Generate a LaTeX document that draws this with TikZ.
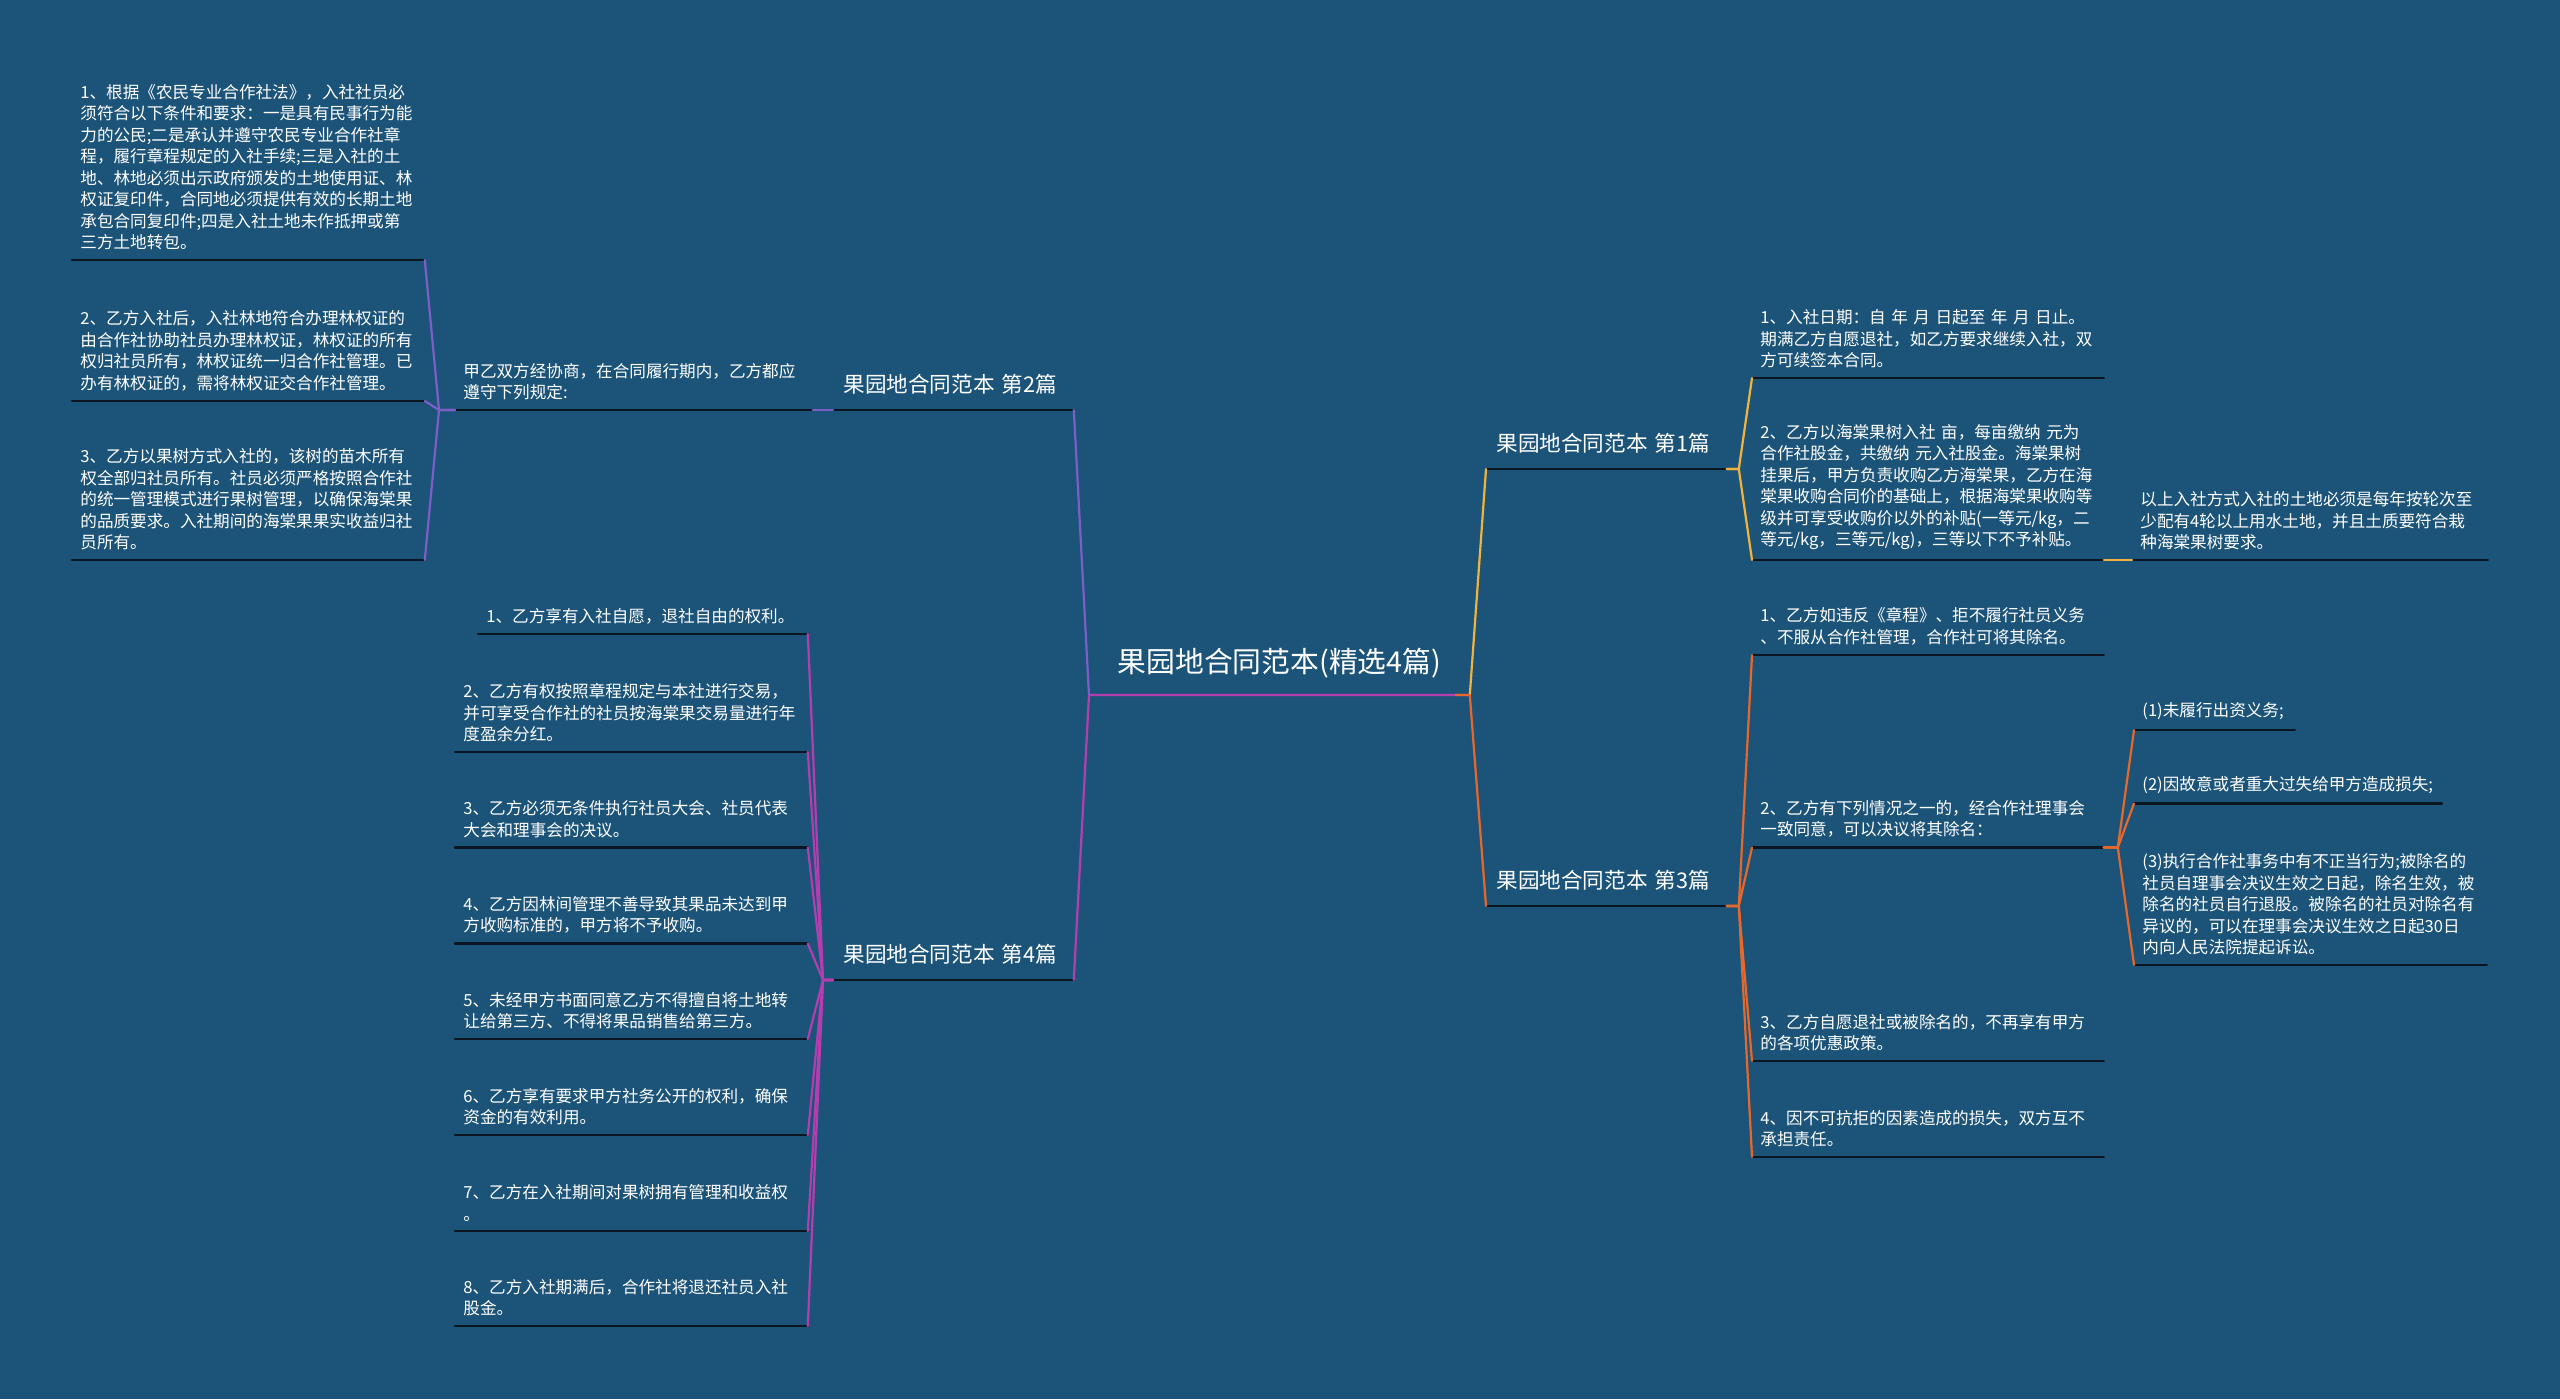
\documentclass[tikz,border=0pt]{standalone}
\usepackage{fontspec}
\usepackage{tikz}
\newfontfamily\cjk{Noto Sans CJK SC}
\definecolor{gmBg}{HTML}{1C5479}
\definecolor{gmRule}{HTML}{0B1620}
\definecolor{gmPurple}{HTML}{7B5EC6}
\definecolor{gmMagenta}{HTML}{B43DAF}
\definecolor{gmYellow}{HTML}{F2B33D}
\definecolor{gmOrange}{HTML}{E8682C}
\tikzset{
  gm map/.style={font=\cjk, text=white, line cap=round, line join=round},
  gm leaf/.style={anchor=south west, align=left, inner xsep=4pt, inner ysep=4.8pt,
    text width=#1, font=\cjk\fontsize{8.3}{10.75}\selectfont},
  gm branch/.style={anchor=south west, align=left, inner xsep=5pt, inner ysep=7.5pt,
    text width=110pt, font=\cjk\fontsize{10.8}{13}\selectfont},
  gm root/.style={anchor=south west, align=center, inner xsep=5pt, inner ysep=8pt,
    text width=180pt, font=\cjk\fontsize{14.4}{17}\selectfont},
  gm rule/.style={draw=gmRule, line width=1.3pt},
  gm link/.style={line width=1.1pt}
}
\begin{document}
\begin{tikzpicture}[gm map, x=0.5pt, y=-0.5pt]
\fill[gmBg] (0,0) rectangle (2560,1399);
\useasboundingbox (0,0) rectangle (2560,1399);

% root
\node[gm root] (ctr) at (1089,695) {果园地合同范本(精选4篇)};

% 第2篇
\node[gm branch] (b2) at (833,410) {果园地合同范本 第2篇};
\node[gm leaf=170.5pt] (p2) at (455,410) {甲乙双方经协商，在合同履行期内，乙方都应\\遵守下列规定:};
\node[gm leaf=168pt] (l2a) at (72,260) {1、根据《农民专业合作社法》，入社社员必\\须符合以下条件和要求：一是具有民事行为能\\力的公民;二是承认并遵守农民专业合作社章\\程，履行章程规定的入社手续;三是入社的土\\地、林地必须出示政府颁发的土地使用证、林\\权证复印件，合同地必须提供有效的长期土地\\承包合同复印件;四是入社土地未作抵押或第\\三方土地转包。};
\node[gm leaf=168pt] (l2b) at (72,401) {2、乙方入社后，入社林地符合办理林权证的\\由合作社协助社员办理林权证，林权证的所有\\权归社员所有，林权证统一归合作社管理。已\\办有林权证的，需将林权证交合作社管理。};
\node[gm leaf=168pt] (l2c) at (72,560) {3、乙方以果树方式入社的，该树的苗木所有\\权全部归社员所有。社员必须严格按照合作社\\的统一管理模式进行果树管理，以确保海棠果\\的品质要求。入社期间的海棠果果实收益归社\\员所有。};

% 第4篇
\node[gm branch] (b4) at (833,980) {果园地合同范本 第4篇};
\node[gm leaf=156.5pt] (l4a) at (478,634) {1、乙方享有入社自愿，退社自由的权利。};
\node[gm leaf=168pt] (l4b) at (455,752) {2、乙方有权按照章程规定与本社进行交易，\\并可享受合作社的社员按海棠果交易量进行年\\度盈余分红。};
\node[gm leaf=168pt] (l4c) at (455,847.5) {3、乙方必须无条件执行社员大会、社员代表\\大会和理事会的决议。};
\node[gm leaf=168pt] (l4d) at (455,943.5) {4、乙方因林间管理不善导致其果品未达到甲\\方收购标准的，甲方将不予收购。};
\node[gm leaf=168pt] (l4e) at (455,1039) {5、未经甲方书面同意乙方不得擅自将土地转\\让给第三方、不得将果品销售给第三方。};
\node[gm leaf=168pt] (l4f) at (455,1135) {6、乙方享有要求甲方社务公开的权利，确保\\资金的有效利用。};
\node[gm leaf=168pt] (l4g) at (455,1231) {7、乙方在入社期间对果树拥有管理和收益权\\。};
\node[gm leaf=168pt] (l4h) at (455,1326) {8、乙方入社期满后，合作社将退还社员入社\\股金。};

% 第1篇
\node[gm branch] (b1) at (1486,469) {果园地合同范本 第1篇};
\node[gm leaf=167.5pt] (r1a) at (1752,378) {1、入社日期：自 年 月 日起至 年 月 日止。\\期满乙方自愿退社，如乙方要求继续入社，双\\方可续签本合同。};
\node[gm leaf=167.5pt] (r1b) at (1752,560) {2、乙方以海棠果树入社 亩，每亩缴纳 元为\\合作社股金，共缴纳 元入社股金。海棠果树\\挂果后，甲方负责收购乙方海棠果，乙方在海\\棠果收购合同价的基础上，根据海棠果收购等\\级并可享受收购价以外的补贴(一等元/kg，二\\等元/kg，三等元/kg)，三等以下不予补贴。};
\node[gm leaf=169.5pt] (r1c) at (2132,560) {以上入社方式入社的土地必须是每年按轮次至\\少配有4轮以上用水土地，并且土质要符合栽\\种海棠果树要求。};

% 第3篇
\node[gm branch] (b3) at (1486,906) {果园地合同范本 第3篇};
\node[gm leaf=167.5pt] (r3a) at (1752,655) {1、乙方如违反《章程》、拒不履行社员义务\\、不服从合作社管理，合作社可将其除名。};
\node[gm leaf=167.5pt] (r3b) at (1752,847.5) {2、乙方有下列情况之一的，经合作社理事会\\一致同意，可以决议将其除名：};
\node[gm leaf=72pt] (r3e) at (2134,730) {(1)未履行出资义务;};
\node[gm leaf=145.5pt] (r3f) at (2134,803.5) {(2)因故意或者重大过失给甲方造成损失;};
\node[gm leaf=168pt] (r3g) at (2134,965) {(3)执行合作社事务中有不正当行为;被除名的\\社员自理事会决议生效之日起，除名生效，被\\除名的社员自行退股。被除名的社员对除名有\\异议的，可以在理事会决议生效之日起30日\\内向人民法院提起诉讼。};
\node[gm leaf=167.5pt] (r3c) at (1752,1061) {3、乙方自愿退社或被除名的，不再享有甲方\\的各项优惠政策。};
\node[gm leaf=167.5pt] (r3d) at (1752,1157) {4、因不可抗拒的因素造成的损失，双方互不\\承担责任。};

% underlines
\foreach \n in {b2,p2,l2a,l2b,l2c,b4,l4a,l4b,l4c,l4d,l4e,l4f,l4g,l4h,b1,r1a,r1b,r1c,b3,r3a,r3b,r3e,r3f,r3g,r3c,r3d}
  \draw[gm rule] (\n.south west) -- (\n.south east);

% connectors
\draw[gm link, gmMagenta] (ctr.south east) -- (ctr.south west) -- (b4.south east);
\draw[gm link, gmPurple] (ctr.south west) -- (b2.south east);
\draw[gm link, gmPurple] (b2.south west) -- (p2.south east);
\foreach \n in {l2a,l2b,l2c}
  \draw[gm link, gmPurple] (p2.south west) -- ++(-16,0) -- (\n.south east);
\foreach \n in {l4a,l4b,l4c,l4d,l4e,l4f,l4g,l4h}
  \draw[gm link, gmMagenta] (b4.south west) -- ++(-10,0) -- (\n.south east);
\draw[gm link, gmYellow] (ctr.south east) -- (b1.south west);
\foreach \n in {r1a,r1b}
  \draw[gm link, gmYellow] (b1.south east) -- ++(12,0) -- (\n.south west);
\draw[gm link, gmYellow] (r1b.south east) -- (r1c.south west);
\draw[gm link, gmOrange] ([xshift=-7pt]ctr.south east) -- (ctr.south east) -- (b3.south west);
\foreach \n in {r3a,r3b,r3c,r3d}
  \draw[gm link, gmOrange] (b3.south east) -- ++(12,0) -- (\n.south west);
\foreach \n in {r3e,r3f,r3g}
  \draw[gm link, gmOrange] (r3b.south east) -- ++(14,0) -- (\n.south west);
\end{tikzpicture}
\end{document}
